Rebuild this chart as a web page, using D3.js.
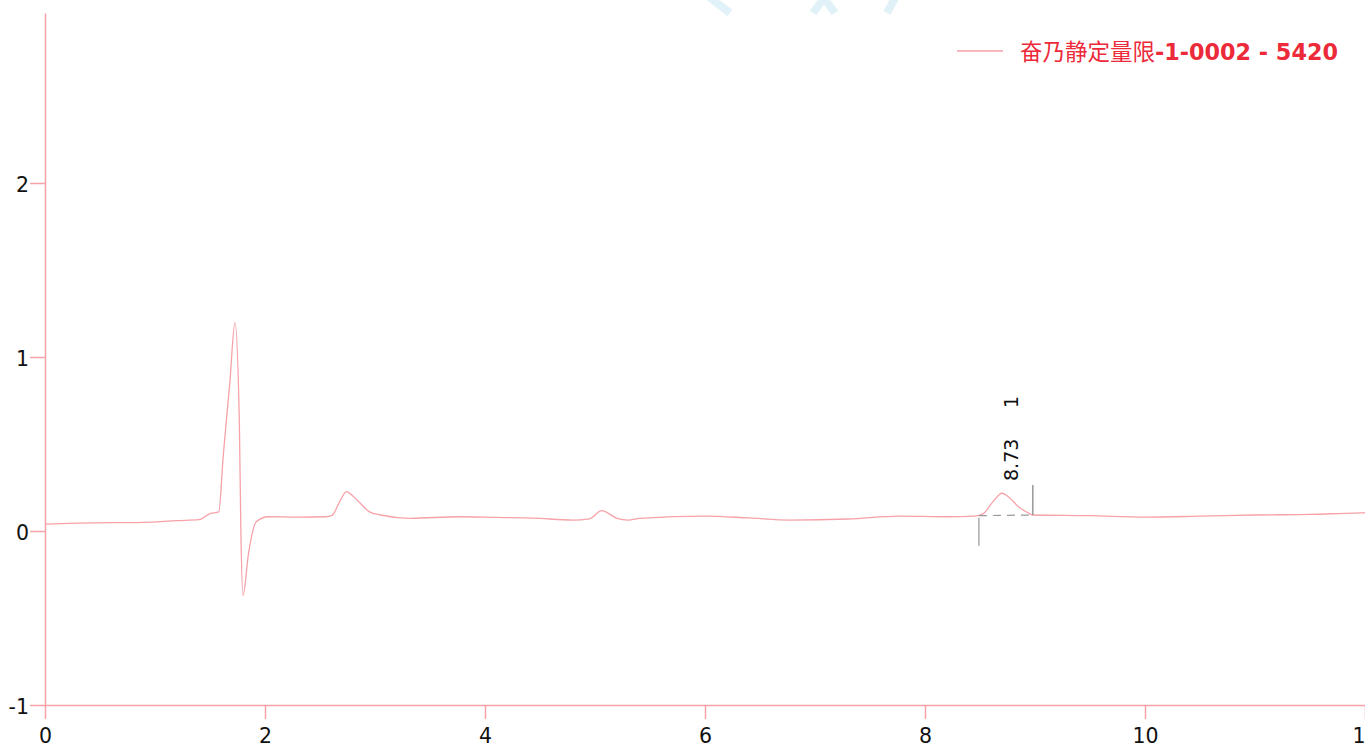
<!DOCTYPE html>
<html>
<head>
<meta charset="utf-8">
<script src="https://cdn.jsdelivr.net/npm/d3@7"></script>
<style>
  body { margin: 0; background: #fff; overflow: hidden; }
  .tick text { font-family: "DejaVu Sans", Verdana, sans-serif; font-size: 20.5px; fill: #111; }
</style>
</head>
<body>
<div id="chart"></div>
<script>
// trace: time (min) and response
const times = [0.00, 0.30, 0.60, 0.90, 1.20, 1.40, 1.50, 1.58, 1.62, 1.68, 1.727, 1.767, 1.78, 1.80, 1.85, 1.92, 2.03,
  2.30, 2.55, 2.61, 2.68, 2.74, 2.80, 2.85, 2.95, 3.05, 3.32, 3.77, 4.10, 4.44, 4.80, 4.95, 5.06, 5.20, 5.30, 5.41,
  6.00, 6.40, 6.77, 7.30, 7.77, 8.20, 8.45, 8.53, 8.62, 8.70, 8.75, 8.85, 8.95, 8.98, 9.50, 10.00, 10.50, 11.00, 11.50, 11.90, 12.00];
const values = [0.040, 0.045, 0.048, 0.050, 0.060, 0.065, 0.100, 0.110, 0.430, 0.850, 1.197, 0.620, 0.025, -0.370, -0.130, 0.053, 0.082,
  0.080, 0.082, 0.090, 0.170, 0.226, 0.200, 0.170, 0.110, 0.092, 0.073, 0.082, 0.078, 0.074, 0.063, 0.070, 0.117, 0.073, 0.063, 0.073,
  0.086, 0.075, 0.063, 0.069, 0.086, 0.082, 0.086, 0.100, 0.170, 0.217, 0.200, 0.140, 0.100, 0.092, 0.088, 0.080, 0.085, 0.092, 0.095, 0.103, 0.104];

const xTicks = [0, 2, 4, 6, 8, 10, 12];
const yTicks = [-1, 0, 1, 2];

// integrated peak: start, end, baseline, label
const peakStart = [8.49, 0.088];
const peakEnd = [8.98, 0.092];
const peakLabel = "8.73";
const peakNo = "1";
const legendName = "奋乃静定量限";
const legendRun = "-1-0002 - 5420";

const margin = {top: 13, right: 0, bottom: 42, left: 45},
    W = 1365, H = 747,
    width = W - margin.left - margin.right,
    height = H - margin.top - margin.bottom;

const pink = "#f6a2a8";

const svg = d3.select("#chart")
  .append("svg")
    .attr("width", W)
    .attr("height", H);

// faint watermark strokes at the top edge
const wm = svg.append("g").attr("stroke", "#cdeaf3").attr("stroke-width", 8).attr("opacity", 0.6).attr("fill", "none");
wm.append("path").attr("d", "M708,-4 L730,13");
wm.append("path").attr("d", "M813,13 L824,-2 L835,13");
wm.append("path").attr("d", "M887,13 L896,-4");

const g = svg.append("g")
  .attr("transform", `translate(${margin.left},${margin.top})`);

const x = d3.scaleLinear().domain([0, 12]).range([0, width]);
const y = d3.scaleLinear().domain([-1, 2.977]).range([height, 0]);

// X axis
g.append("g")
  .attr("transform", `translate(0,${height})`)
  .call(d3.axisBottom(x).tickValues(xTicks).tickSize(14).tickSizeOuter(0).tickPadding(9).tickFormat(d => String(d)))
  .call(a => a.select(".domain").attr("stroke", pink).attr("stroke-width", 1.5))
  .call(a => a.selectAll(".tick line").attr("stroke", pink).attr("stroke-width", 1.5));

// Y axis
g.append("g")
  .call(d3.axisLeft(y).tickValues(yTicks).tickSize(15).tickSizeOuter(0).tickPadding(1).tickFormat(d => String(d)))
  .call(a => a.select(".domain").attr("stroke", pink).attr("stroke-width", 1.5))
  .call(a => a.selectAll(".tick line").attr("stroke", pink).attr("stroke-width", 1.5))
  .call(a => a.selectAll(".tick text").attr("dy", "0.42em"));

// trace
const pts = times.map((t, i) => ({t: t, v: values[i]}));
g.append("path")
  .datum(pts)
  .attr("fill", "none")
  .attr("stroke", pink)
  .attr("stroke-width", 1.3)
  .attr("d", d3.line()
    .curve(d3.curveMonotoneX)
    .x(d => x(d.t))
    .y(d => y(d.v)));

// peak baseline and markers
g.append("line")
  .attr("x1", x(peakStart[0])).attr("y1", y(peakStart[1]))
  .attr("x2", x(peakEnd[0])).attr("y2", y(peakEnd[1]))
  .attr("stroke", "#999").attr("stroke-width", 1.2).attr("stroke-dasharray", "8,6");
g.append("line")
  .attr("x1", x(peakStart[0])).attr("x2", x(peakStart[0]))
  .attr("y1", y(peakStart[1]) + 2).attr("y2", y(peakStart[1]) + 30)
  .attr("stroke", "#aaa").attr("stroke-width", 1.5);
g.append("line")
  .attr("x1", x(peakEnd[0])).attr("x2", x(peakEnd[0]))
  .attr("y1", y(peakEnd[1])).attr("y2", y(peakEnd[1]) - 30)
  .attr("stroke", "#999").attr("stroke-width", 1.5);

// peak labels, rotated
const apexX = x(8.73);
[[peakLabel, 481 - margin.top], [peakNo, 408 - margin.top]].forEach(([txt, yy]) => {
  g.append("text")
    .attr("transform", `translate(${apexX + 13},${yy}) rotate(-90)`)
    .attr("text-anchor", "start")
    .style("font-family", "\"DejaVu Sans\", Verdana, sans-serif")
    .style("font-size", "19px")
    .style("fill", "#111")
    .text(txt);
});

// legend
svg.append("line")
  .attr("x1", 957).attr("x2", 1003).attr("y1", 51).attr("y2", 51)
  .attr("stroke", pink).attr("stroke-width", 1.5);
const lg = svg.append("text")
  .attr("x", 1020).attr("y", 60)
  .style("fill", "#ec2a3a");
lg.append("tspan")
  .style("font-family", "\"Noto Sans CJK SC\", sans-serif")
  .style("font-size", "22.5px")
  .text(legendName);
lg.append("tspan")
  .style("font-family", "\"DejaVu Sans\", Verdana, sans-serif")
  .style("font-size", "22.3px")
  .style("font-weight", "bold")
  .text(legendRun);
</script>
</body>
</html>
